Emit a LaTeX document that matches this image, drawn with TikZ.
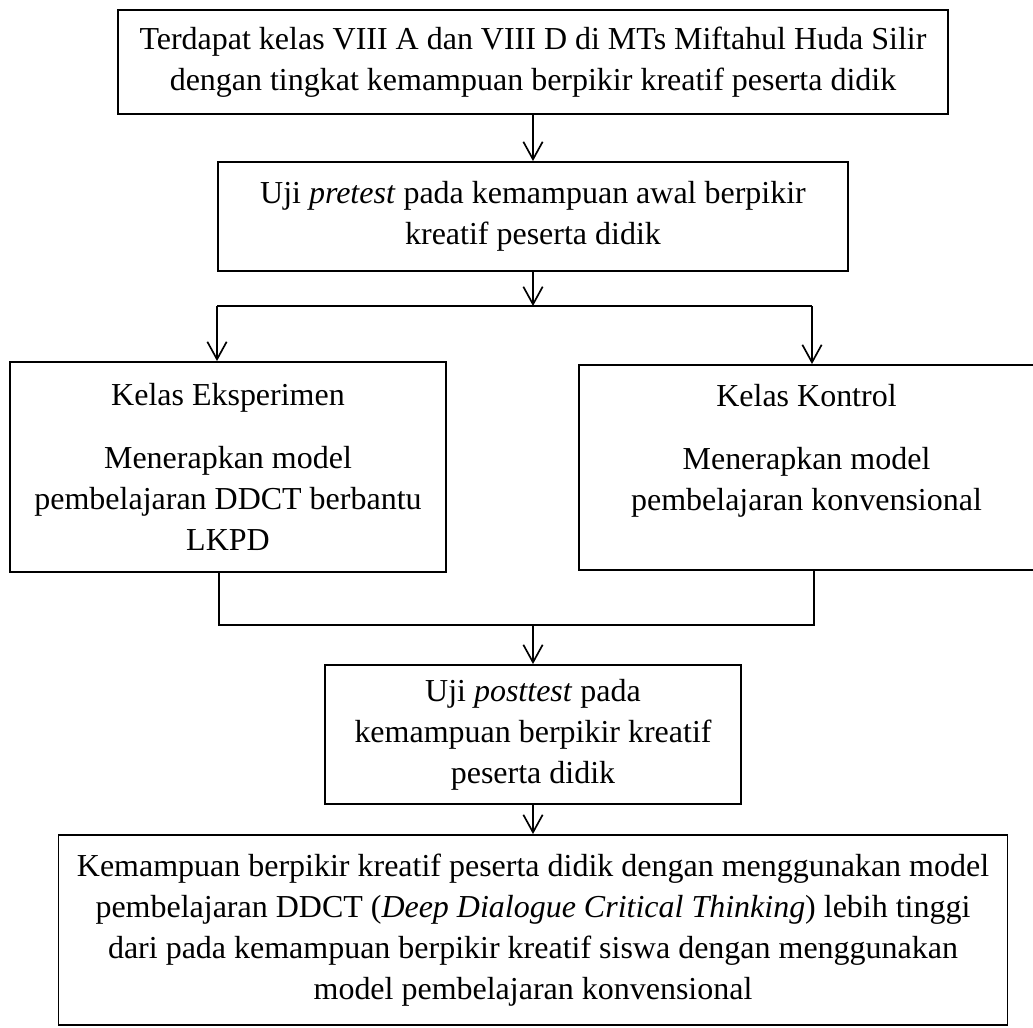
\documentclass[tikz,border=0pt]{standalone}
\usepackage{fontspec}
\setmainfont{Liberation Serif}
\usetikzlibrary{arrows.meta, positioning}

\begin{document}
\begin{tikzpicture}[
    box/.style={draw, line width=1.1pt, inner sep=0pt, align=center,
        font=\fontsize{18.2pt}{23.3pt}\selectfont},
    arr/.style={line width=0.95pt, -{Straight Barb[length=10pt, width=11pt]}},
    link/.style={line width=0.95pt}
]
    \useasboundingbox (0,0) rectangle (20.66,-20.54);

    % Starting condition
    \node[box, minimum width=16.6cm, minimum height=2.08cm] (kelas) at (10.66,-1.24)
        {Terdapat kelas VIII A dan VIII D di MTs Miftahul Huda Silir\\
         dengan tingkat kemampuan berpikir kreatif peserta didik};

    % Pretest
    \node[box, minimum width=12.6cm, minimum height=2.18cm] (pre) at (10.66,-4.33)
        {Uji \textit{pretest} pada kemampuan awal berpikir\\
         kreatif peserta didik};
    \draw[arr] (kelas) -- (pre);

    % Two classes
    \node[box, minimum width=8.72cm, minimum height=4.2cm] (eks) at (4.56,-9.34)
        {Kelas Eksperimen\\[12.5pt]
         Menerapkan model\\
         pembelajaran DDCT berbantu\\
         LKPD};
    \node[box, minimum width=9.1cm, minimum height=4.1cm] (kon) at (16.13,-9.35)
        {Kelas Kontrol\\[12.5pt]
         Menerapkan model\\
         pembelajaran konvensional\\
         \phantom{LKPD}};

    % Split after pretest
    \coordinate (splitL) at (4.34,-6.12);
    \coordinate (splitR) at (16.24,-6.12);
    \draw[arr] (pre) -- (pre |- splitL);
    \draw[link] (splitL) -- (splitR);
    \draw[arr] (splitL) -- (splitL |- eks.north);
    \draw[arr] (splitR) -- (splitR |- kon.north);

    % Posttest
    \node[box, minimum width=8.32cm, minimum height=2.78cm] (post) at (10.66,-14.69)
        {Uji \textit{posttest} pada\\
         kemampuan berpikir kreatif\\
         peserta didik};

    % Merge of both classes
    \coordinate (mergeL) at (4.38,-12.5);
    \coordinate (mergeR) at (16.28,-12.5);
    \draw[link] (mergeL |- eks.south) -- (mergeL) -- (mergeR) -- (mergeR |- kon.south);
    \draw[arr] (post.north |- mergeL) -- (post);

    % Conclusion
    \node[box, minimum width=18.98cm, minimum height=3.8cm] (hasil) at (10.66,-18.6)
        {Kemampuan berpikir kreatif peserta didik dengan menggunakan model\\
         pembelajaran DDCT (\textit{Deep Dialogue Critical Thinking}) lebih tinggi\\
         dari pada kemampuan berpikir kreatif siswa dengan menggunakan\\
         model pembelajaran konvensional};
    \draw[arr] (post) -- (hasil);
\end{tikzpicture}
\end{document}
